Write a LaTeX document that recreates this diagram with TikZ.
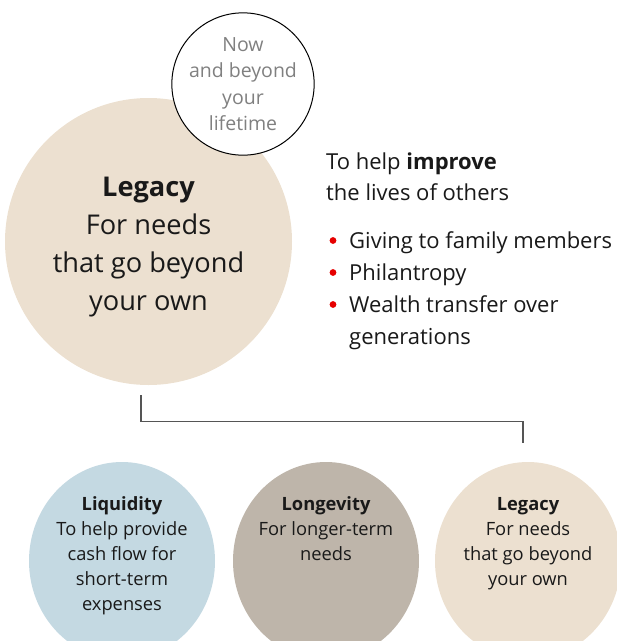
\documentclass[tikz,border=0pt]{standalone}
\usepackage{fontspec}
\setmainfont{Open Sans}
\usetikzlibrary{positioning,shapes.geometric}
\definecolor{sand}{RGB}{236,224,208}
\definecolor{sky}{RGB}{196,217,226}
\definecolor{stone}{RGB}{190,181,170}
\definecolor{ubsred}{RGB}{230,0,0}
\definecolor{ink}{RGB}{25,25,25}
\definecolor{greytext}{RGB}{128,128,128}
\definecolor{linegrey}{RGB}{85,85,85}
\begin{document}
\begin{tikzpicture}[x=1pt,y=-1pt,
  blob/.style={ellipse, minimum width=186pt, minimum height=198pt, inner sep=0pt},
  caption/.style={font=\fontsize{18.3}{25}\selectfont, text=ink, align=center, inner sep=0pt},
  item/.style={font=\fontsize{22}{31}\selectfont, text=ink, anchor=base west, inner sep=0pt},
  link/.style={linegrey, line width=1.1pt}]
\useasboundingbox (0,0) rectangle (617,641);
% Main circle and its time note
\node[circle, fill=sand, minimum size=287pt, inner sep=0pt] (legacy) at (148.5,241.5) {};
\node[font=\fontsize{27.2}{37.8}\selectfont, text=ink, align=center, inner sep=0pt]
      (legacytext) at ([yshift=-5.5pt]legacy.center)
      {\textbf{Legacy}\\For needs\\that go beyond\\your own};
\node[circle, draw=black, line width=1pt, fill=white, minimum size=128pt, inner sep=0pt,
      font=\fontsize{19.5}{26.5}\selectfont, text=greytext, align=center] (now) at (243,84)
      {Now\\and beyond\\your\\lifetime};
% Text on the right
\node[item] (intro) at (326,169) {To help \textbf{improve}};
\node[item] (intro2) at (326,200) {the lives of others};
\node[item] (b1) at (349,248) {Giving to family members};
\node[item] (b2) at (349,280) {Philantropy};
\node[item] (b3) at (349,312) {Wealth transfer over};
\node[item] (b3b) at (349,344) {generations};
\foreach \b in {b1,b2,b3}
  \fill[ubsred] ([shift={(-16,-7.5)}]\b.base west) circle (3.4pt);
% Three needs
\node[blob, fill=sky] (liq) at (122,561) {};
\node[blob, fill=stone] (lon) at (326,561) {};
\node[blob, fill=sand] (leg) at (528,561) {};
\node[caption, below=35pt of liq.north] (liqtext) {\textbf{Liquidity}\\To help provide\\cash flow for\\short-term\\expenses};
\node[caption, below=35pt of lon.north] (lontext) {\textbf{Longevity}\\For longer-term\\needs};
\node[caption, below=35pt of leg.north] (legtext) {\textbf{Legacy}\\For needs\\that go beyond\\your own};
% Connector
\coordinate (tap) at ([xshift=-7.5pt,yshift=-10pt]legacy.south);
\coordinate (drop) at ([xshift=-5pt,yshift=19pt]leg.north);
\draw[link] (tap) -- ++(0,26) -| (drop);
\end{tikzpicture}
\end{document}
